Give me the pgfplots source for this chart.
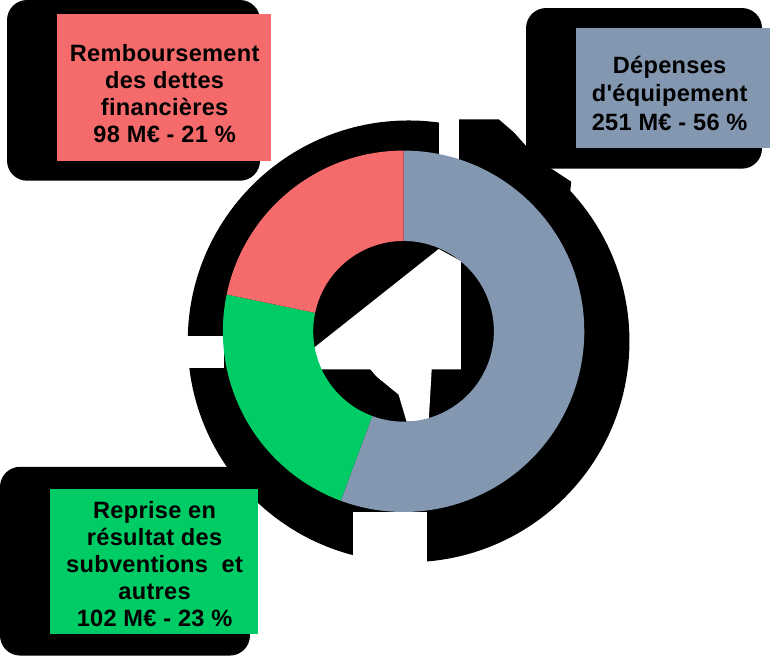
\documentclass[border=0pt]{standalone}
\usepackage{pgfplots}
\pgfplotsset{compat=1.18}
\usepackage{fontspec}
\setmainfont{Liberation Sans}[Ligatures=TeXOff,LetterSpace=1.2]
\definecolor{cgrey}{RGB}{132,151,176}
\definecolor{cred}{RGB}{245,107,107}
\definecolor{cgreen}{RGB}{0,204,102}
\newcommand{\donutwedge}[3]{%
  \fill[#1] (axis cs:{\cx+\Ro*cos(#2)},{\cy-\Ro*sin(#2)}) arc[start angle=#2,end angle=#3,radius=\Ro pt]
    -- (axis cs:{\cx+\Ri*cos(#3)},{\cy-\Ri*sin(#3)}) arc[start angle=#3,end angle=#2,radius=\Ri pt] -- cycle;}
\begin{document}
\begin{tikzpicture}
% values (M EUR)
\def\vA{251}% Dépenses d'équipement
\def\vB{102}% Reprise en résultat des subventions et autres
\def\vC{98}%  Remboursement des dettes financières
\def\cx{405}\def\cy{335}\def\Ro{180}\def\Ri{90}
\pgfmathsetmacro{\tot}{\vA+\vB+\vC}
\pgfmathsetmacro{\aA}{90}
\pgfmathsetmacro{\aB}{\aA-360*(\vA/\tot)}
\pgfmathsetmacro{\aC}{\aB-360*(\vB/\tot)}
\pgfmathsetmacro{\aD}{\aC-360*(\vC/\tot)}
\begin{axis}[width=770pt,height=663pt,scale only axis,
  xmin=0,xmax=770,ymin=0,ymax=663,y dir=reverse,hide axis,clip=false]
% black shadows
\fill[black,rounded corners=20pt] (axis cs:10,5) rectangle (axis cs:262,185);
\fill[black,rounded corners=20pt] (axis cs:527,13) rectangle (axis cs:762,173);
\fill[black,rounded corners=20pt] (axis cs:3,470) rectangle (axis cs:252,658);
\fill[black] (axis cs:410,345) circle[radius=220pt];
\fill[black] (axis cs:460,124) -- (axis cs:500,124) -- (axis cs:515,137) -- (axis cs:540,165)
  -- (axis cs:572,186) -- (axis cs:560,300) -- (axis cs:460,300) -- cycle;
% white notches
\fill[white] (axis cs:440,100) rectangle (axis cs:460,170);
\fill[white] (axis cs:150,340) rectangle (axis cs:226,372);
\fill[white] (axis cs:355,515) rectangle (axis cs:428,575);
\fill[white] (axis cs:440,253) -- (axis cs:462,265) -- (axis cs:462,373) -- (axis cs:433,373)
  -- (axis cs:430,425) -- (axis cs:408,425) -- (axis cs:400,398) -- (axis cs:378,380)
  -- (axis cs:372,373) -- (axis cs:315,373) -- (axis cs:315,352) -- cycle;
% donut
\donutwedge{cgrey}{\aA}{\aB}
\donutwedge{cgreen}{\aB}{\aC}
\donutwedge{cred}{\aC}{\aD}
% label boxes
\fill[cred] (axis cs:60,19) rectangle (axis cs:273,165);
\fill[cgrey] (axis cs:577,33) rectangle (axis cs:770,152);
\fill[cgreen] (axis cs:53,492) rectangle (axis cs:260,637);
\node[align=center,font=\bfseries\fontsize{23.5}{27}\selectfont] at (axis cs:167,98)
  {Remboursement\\des dettes\\financières\\98 M€ - 21 \%};
\node[align=center,font=\bfseries\fontsize{23.5}{28}\selectfont] at (axis cs:670,98)
  {Dépenses\\d'équipement\\ 251 M€ - 56 \%};
\node[align=center,font=\bfseries\fontsize{23.5}{27}\selectfont] at (axis cs:157,567)
  {Reprise en\\résultat des\\subventions\ \ et\\autres\\102 M€ - 23 \%};
\end{axis}
\end{tikzpicture}
\end{document}
